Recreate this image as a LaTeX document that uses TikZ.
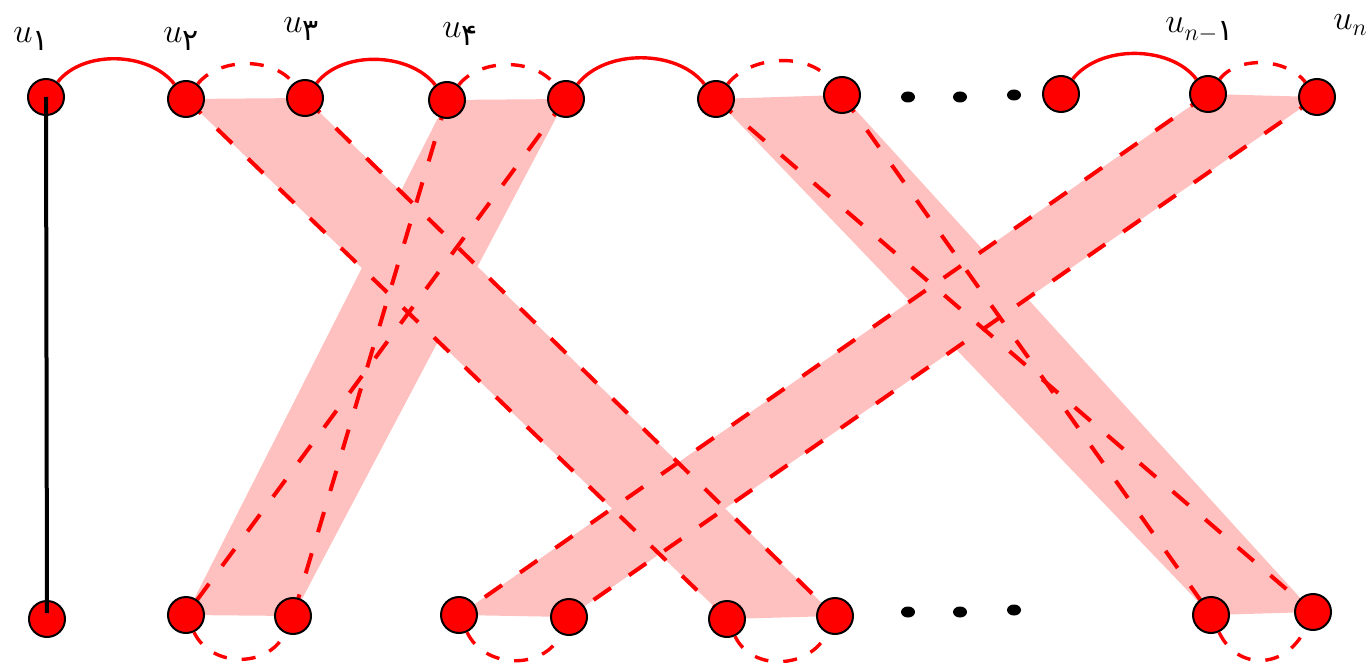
\documentclass[tikz,border=0pt]{standalone}
\usepackage{amsmath}
\usepackage{fontspec}
\newfontfamily\fa[Script=Arabic]{DejaVu Sans}
\newcommand{\fadigit}[1]{\text{\fontsize{15}{15}\selectfont\fa #1}}
\usetikzlibrary{shapes.geometric}
\pgfdeclarelayer{bg}
\pgfsetlayers{bg,main}
\definecolor{bandpink}{RGB}{255,192,192}
\begin{document}
\begin{tikzpicture}[x=0.5pt,y=0.5pt,
  vtx/.style={circle,draw=black,fill=red,line width=1pt,minimum size=18pt,inner sep=0pt},
  dotmark/.style={ellipse,fill=black,minimum width=7pt,minimum height=5.5pt,inner sep=0pt},
  bandfill/.style={fill=bandpink,draw=none},
  bandline/.style={red,line width=2pt,dash pattern=on 10.5pt off 11pt},
  solidarc/.style={red,line width=1.7pt},
  dasharc/.style={red,line width=1.7pt,dash pattern=on 7pt off 7.5pt},
  uparc/.style={out=52,in=128,looseness=0.9},
  downarc/.style={out=-65,in=-115,looseness=1.1},
  lbl/.style={font=\fontsize{17.5}{21}\selectfont,inner sep=0pt,anchor=base west}]
\useasboundingbox (0,0) rectangle (1370,-663);

% top row
\node[vtx] (T1)  at (46,-97)   {};
\node[vtx] (T2)  at (186,-99)  {};
\node[vtx] (T3)  at (305,-98)  {};
\node[vtx] (T4)  at (447,-100) {};
\node[vtx] (T5)  at (566,-99)  {};
\node[vtx] (T6)  at (716,-99)  {};
\node[vtx] (T7)  at (842,-95)  {};
\node[vtx] (T8)  at (1061,-94) {};
\node[vtx] (T9)  at (1208,-94) {};
\node[vtx] (T10) at (1317,-97) {};

% bottom row
\node[vtx] (B1) at (47,-619)   {};
\node[vtx] (B2) at (186,-615)  {};
\node[vtx] (B3) at (293,-616)  {};
\node[vtx] (B4) at (459,-615)  {};
\node[vtx] (B5) at (569,-617)  {};
\node[vtx] (B6) at (727,-619)  {};
\node[vtx] (B7) at (835,-616)  {};
\node[vtx] (B8) at (1211,-615) {};
\node[vtx] (B9) at (1313,-612) {};

% ellipsis dots
\node[dotmark] (d1) at (908,-97)  {};
\node[dotmark] (d2) at (960,-97)  {};
\node[dotmark] (d3) at (1014,-95) {};
\node[dotmark] (d4) at (908,-612) {};
\node[dotmark] (d5) at (960,-612) {};
\node[dotmark] (d6) at (1014,-610) {};

\begin{pgfonlayer}{bg}
  % shaded bands
  \fill[bandfill] (T2.center) -- (T3.center) -- (B7.center) -- (B6.center) -- cycle;
  \fill[bandfill] (T4.center) -- (T5.center) -- (B3.center) -- (B2.center) -- cycle;
  \fill[bandfill] (T9.center) -- (T10.center) -- (B5.center) -- (B4.center) -- cycle;
  \fill[bandfill] (T6.center) -- (T7.center) -- (B9.center) -- (B8.center) -- cycle;
  % dashed edges inside the bands
  \draw[bandline] (T2.center) -- (B6.center);
  \draw[bandline] (T3.center) -- (B7.center);
  \draw[bandline] (T4.center) -- (B3.center);
  \draw[bandline] (T5.center) -- (B2.center);
  \draw[bandline] (T9.center) -- (B4.center);
  \draw[bandline] (T10.center) -- (B5.center);
  \draw[bandline] (T6.center) -- (B9.center);
  \draw[bandline] (T7.center) -- (B8.center);
\end{pgfonlayer}

% arcs along the top row
\draw[solidarc] (T1) to[uparc] (T2);
\draw[dasharc]  (T2) to[uparc] (T3);
\draw[solidarc] (T3) to[uparc] (T4);
\draw[dasharc]  (T4) to[uparc] (T5);
\draw[solidarc] (T5) to[uparc] (T6);
\draw[dasharc]  (T6) to[uparc] (T7);
\draw[solidarc] (T8) to[uparc] (T9);
\draw[dasharc]  (T9) to[uparc] (T10);

% arcs along the bottom row
\draw[dasharc] (B2) to[downarc] (B3);
\draw[dasharc] (B4) to[downarc] (B5);
\draw[dasharc] (B6) to[downarc] (B7);
\draw[dasharc] (B8) to[downarc,looseness=1.3] (B9);

% vertical edge
\draw[black,line width=2pt,shorten >=3pt] (T1.center) -- (B1.center);

% labels
\node[lbl] (L1) at (13,-43)   {$u_{\fadigit{۱}}$};
\node[lbl] (L2) at (163,-43)  {$u_{\fadigit{۲}}$};
\node[lbl] (L3) at (283,-33)  {$u_{\fadigit{۳}}$};
\node[lbl] (L4) at (442,-38)  {$u_{\fadigit{۴}}$};
\node[lbl] (L5) at (1165,-33) {$u_{n-\fadigit{۱}}$};
\node[lbl] (L6) at (1333,-30) {$u_{n}$};
\end{tikzpicture}
\end{document}
